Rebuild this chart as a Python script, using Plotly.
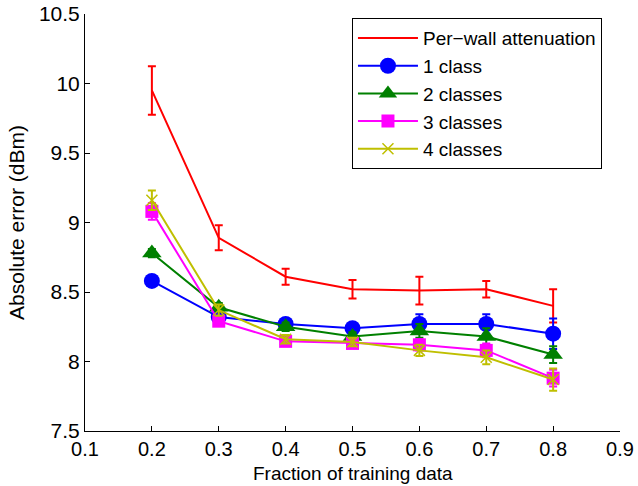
import plotly.graph_objects as go

x = [0.2, 0.3, 0.4, 0.5, 0.6, 0.7, 0.8]

per_wall = [9.95, 8.89, 8.61, 8.52, 8.51, 8.52, 8.40]
per_wall_err = [0.175, 0.09, 0.057, 0.067, 0.10, 0.06, 0.12]

class1 = [8.58, 8.32, 8.27, 8.24, 8.27, 8.27, 8.20]
class1_err = [0.03, 0.03, 0.03, 0.03, 0.07, 0.07, 0.11]

class2 = [8.78, 8.39, 8.25, 8.18, 8.22, 8.18, 8.05]
class2_err = [0.03, 0.03, 0.03, 0.03, 0.05, 0.06, 0.06]

class3 = [9.08, 8.29, 8.145, 8.13, 8.12, 8.08, 7.88]
class3_err = [0.06, 0.03, 0.03, 0.03, 0.04, 0.05, 0.06]

class4 = [9.16, 8.37, 8.16, 8.14, 8.08, 8.03, 7.87]
class4_err = [0.07, 0.04, 0.03, 0.03, 0.04, 0.05, 0.08]

names = ["Per\u2212wall attenuation", "1 class", "2 classes", "3 classes", "4 classes"]
colors = ["#FF0000", "#0000FF", "#008000", "#FF00FF", "#BFBF00"]
x_title = "Fraction of training data"
y_title = "Absolute error (dBm)"

fig = go.Figure()

def add(y, err, name, color, symbol=None, size=None, open_sym=False):
    mode = "lines+markers" if symbol else "lines"
    marker = None
    if symbol:
        if open_sym:
            marker = dict(symbol=symbol, size=size, color=color, line=dict(color=color, width=1.5))
        else:
            marker = dict(symbol=symbol, size=size, color=color, line=dict(width=0))
    fig.add_trace(go.Scatter(
        x=x, y=y, name=name, mode=mode,
        line=dict(color=color, width=2),
        marker=marker,
        error_y=dict(type="data", array=err, visible=True, color=color, thickness=2, width=4),
    ))

add(per_wall, per_wall_err, names[0], colors[0])
add(class1, class1_err, names[1], colors[1], "circle", 16)
add(class2, class2_err, names[2], colors[2], "triangle-up", 17)
add(class3, class3_err, names[3], colors[3], "square", 13)
add(class4, class4_err, names[4], colors[4], "x-thin", 11, open_sym=True)

font = "Liberation Sans, Arial, Helvetica, sans-serif"
bottom_margin = 55
plot_h = 486 - 14 - bottom_margin

fig.update_layout(
    width=638, height=486,
    margin=dict(l=85, r=18, t=14, b=bottom_margin),
    plot_bgcolor="white", paper_bgcolor="white",
    font=dict(family=font, size=21, color="black"),
    showlegend=True,
    legend=dict(
        x=0.499, y=0.99, xanchor="left", yanchor="top",
        bordercolor="black", borderwidth=1, bgcolor="white",
        font=dict(size=19), tracegroupgap=0, itemwidth=60,
    ),
    xaxis=dict(
        range=[0.1, 0.9], dtick=0.1, tick0=0.1,
        showline=True, linecolor="black", linewidth=1,
        ticks="inside", ticklen=5, tickcolor="black",
        tickfont=dict(size=20),
        showgrid=False, zeroline=False, mirror=False, automargin=False,
    ),
    yaxis=dict(
        range=[7.5, 10.5], dtick=0.5, tick0=7.5,
        showline=True, linecolor="black", linewidth=1,
        ticks="inside", ticklen=5, tickcolor="black",
        showgrid=False, zeroline=False, mirror=False, automargin=False,
        title=dict(text=y_title, standoff=8, font=dict(size=21)),
    ),
    annotations=[dict(
        text=x_title, xref="paper", yref="paper", x=0.5, y=-(bottom_margin - 0.5) / plot_h,
        xanchor="center", yanchor="bottom", showarrow=False,
        font=dict(size=19),
    )],
)

fig.write_html("out.html")
